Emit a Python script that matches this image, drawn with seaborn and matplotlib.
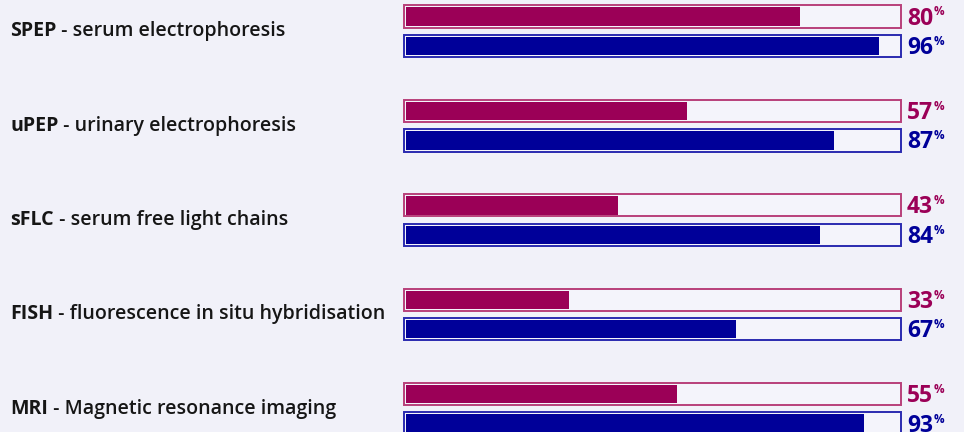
import matplotlib
matplotlib.use("Agg")
import matplotlib.pyplot as plt
import seaborn as sns
import pandas as pd

# ---- data ----
abbrevs = ["SPEP", "uPEP", "sFLC", "FISH", "MRI"]
descriptions = ["serum electrophoresis", "urinary electrophoresis",
                "serum free light chains", "fluorescence in situ hybridisation",
                "Magnetic resonance imaging"]
series_names = ["Group A", "Group B"]
values_a = [80, 57, 43, 33, 55]
values_b = [96, 87, 84, 67, 93]

fill_colors = ["#9b0057", "#000099"]
edge_colors = ["#b8407a", "#2a2ab0"]
bg = "#f1f1f9"

sns.set_theme(style="white")
plt.rcParams["font.family"] = ["Open Sans", "DejaVu Sans"]

rows = []
for i, ab in enumerate(abbrevs):
    rows.append({"cat": ab, "series": series_names[0], "value": values_a[i]})
    rows.append({"cat": ab, "series": series_names[1], "value": values_b[i]})
df = pd.DataFrame(rows)
df_box = df.assign(value=100)

fig = plt.figure(figsize=(9.64, 4.32), dpi=100)
fig.patch.set_facecolor(bg)
ax = fig.add_axes([0, 0, 1, 1])
ax.set_facecolor(bg)

W = 0.625
sns.barplot(data=df_box, y="cat", x="value", hue="series", order=abbrevs,
            hue_order=series_names, orient="h", width=W, gap=0.245,
            fill=False, palette=edge_colors, linewidth=1.4, legend=False,
            errorbar=None, ax=ax)
padx = 0.5
for p in list(ax.patches):
    p.set_x(p.get_x() - padx)
    p.set_width(p.get_width() + 2 * padx)
    p.set_facecolor("#f4f4fb")
    p.set_fill(True)

sns.barplot(data=df, y="cat", x="value", hue="series", order=abbrevs,
            hue_order=series_names, orient="h", width=W, gap=0.376,
            palette=fill_colors, linewidth=0, saturation=1, legend=False,
            errorbar=None, ax=ax)

ax.set_xlim(-406 / 4.925, (964 - 406) / 4.925)
ax.set_ylim(4.245, -0.331)
ax.axis("off")

# category labels
for i, (ab, desc) in enumerate(zip(abbrevs, descriptions)):
    t = ax.annotate(ab, xy=(10, i), xycoords=("figure pixels", "data"),
                    va="center", ha="left", fontsize=14.1, fontweight="bold",
                    color="#161616")
    ax.annotate(" - " + desc, xy=(1, 0), xycoords=t, va="bottom", ha="left",
                fontsize=14.1, fontweight="semibold", color="#161616")

# value labels
for k, (vals, col) in enumerate(zip([values_a, values_b], fill_colors)):
    off = (-1 if k == 0 else 1) * W / 4
    for i, v in enumerate(vals):
        t = ax.annotate(f"{v}", xy=(100, i + off), xytext=(6, -1.5),
                        textcoords="offset points", va="center", ha="left",
                        fontsize=16.5, fontweight="bold", color=col)
        ax.annotate("%", xy=(1, 1), xycoords=t, xytext=(0.3, 0.8),
                    textcoords="offset points", va="top", ha="left",
                    fontsize=8.5, fontweight="bold", color=col)

fig.savefig("out.png", dpi=100, facecolor=bg)
